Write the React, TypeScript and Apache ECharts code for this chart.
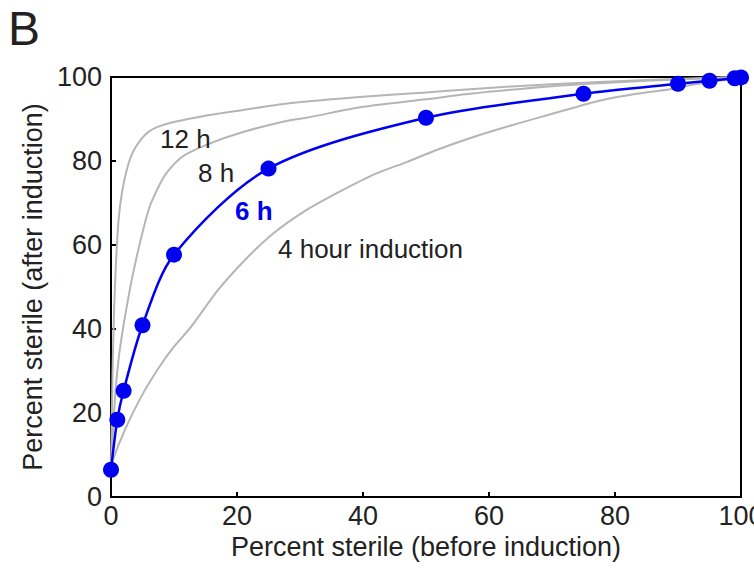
import React, { useEffect, useRef } from "react";
import * as echarts from "echarts";

// Percent sterile before induction (x) vs after induction (y)
const curve4h: [number, number][] = [
  [0, 6.5], [0.3, 8.8], [2.2, 16], [4.8, 23.9], [7.5, 30.6], [10, 35.8], [12.7, 40.5],
  [17, 49.3], [21.5, 56.8], [25.8, 62.8], [31, 68.3], [36.3, 72.7], [41.6, 76.7],
  [47, 79.8], [52, 82.8], [57.3, 85.6], [62, 87.8], [67.6, 90.2], [73, 92.5],
  [78, 94.5], [83.4, 96], [88.7, 97.1], [91.4, 97.9], [95, 98.8], [100, 99.7],
];

const curve8h: [number, number][] = [
  [0, 6.5], [0.3, 15], [0.7, 25], [1.3, 34], [2, 41], [2.7, 47], [3.4, 52.5], [4.2, 58],
  [5, 63], [5.8, 67.5], [6.5, 70.5], [8.5, 76.5], [11.2, 80.9], [15.4, 84], [20.7, 86.8],
  [28, 89.6], [31, 90.3], [40, 92.9], [50, 94.7], [57, 96], [70, 97.8], [85, 99.1], [100, 100],
];

const curve12h: [number, number][] = [
  [0, 6.5], [0.1, 15], [0.25, 30], [0.5, 45], [0.8, 56], [1.2, 66], [1.8, 73], [2.7, 79],
  [3.6, 82.5], [4.8, 85.2], [6, 87], [7.5, 88.2], [10, 89.3], [15, 90.8], [20.7, 92.1],
  [28, 93.7], [40, 95.3], [50, 96.3], [57, 97.1], [70, 98.3], [85, 99.3], [100, 100],
];

const measured6hX = [0, 1, 2, 5, 10, 25, 50, 75, 90, 95, 99, 100];
const measured6hY = [6.5, 18.4, 25.3, 40.9, 57.7, 78.2, 90.3, 96.0, 98.4, 99.1, 99.7, 99.9];

const xTicks = [0, 20, 40, 60, 80, 100];
const yTicks = [0, 20, 40, 60, 80, 100];

const curveLabels = [
  { text: "12 h", x: 160, y: 138.5, color: "#222", bold: false },
  { text: "8 h", x: 198, y: 172.5, color: "#222", bold: false },
  { text: "6 h", x: 235, y: 210.5, color: "#0000f0", bold: true },
  { text: "4 hour induction", x: 278, y: 248.5, color: "#222", bold: false },
];

const FONT = '"Liberation Sans", Arial, Helvetica, sans-serif';

export default function App() {
  const ref = useRef<HTMLDivElement>(null);

  useEffect(() => {
    if (!ref.current) return;
    const chart = echarts.init(ref.current, undefined, { renderer: "svg" });
    const gray = "#b5b5b5";
    const blue = "#0000f0";
    const axisCommon = {
      type: "value" as const,
      min: 0,
      max: 100,
      interval: 20,
      axisLine: { show: true, lineStyle: { color: "#000", width: 2 } },
      axisTick: { show: true, inside: true, length: 5, lineStyle: { color: "#000", width: 2 } },
      splitLine: { show: false },
      nameLocation: "middle" as const,
      nameTextStyle: { fontSize: 27, color: "#222", fontFamily: FONT },
    };
    const grayLine = (name: string, data: [number, number][]) => ({
      name,
      type: "line",
      data,
      showSymbol: false,
      smooth: 0.25,
      lineStyle: { color: gray, width: 2 },
      z: 2,
    });
    chart.setOption({
      animation: false,
      backgroundColor: "#fff",
      grid: {
        left: 111,
        right: 13,
        top: 77,
        bottom: 71,
        show: true,
        borderColor: "#000",
        borderWidth: 2,
        containLabel: false,
        outerBoundsMode: "none",
      },
      xAxis: {
        ...axisCommon,
        name: "Percent sterile (before induction)",
        nameGap: 31,
        axisLabel: {
          fontSize: 27,
          color: "#222",
          fontFamily: FONT,
          margin: 5,
          formatter: (v: number) => (xTicks.includes(v) ? String(v) : ""),
        },
      },
      yAxis: {
        ...axisCommon,
        name: "Percent sterile (after induction)",
        nameGap: 55,
        axisLabel: {
          fontSize: 27,
          color: "#222",
          fontFamily: FONT,
          margin: 9,
          formatter: (v: number) => (yTicks.includes(v) ? String(v) : ""),
        },
      },
      series: [
        grayLine("4 h", curve4h),
        grayLine("8 h", curve8h),
        grayLine("12 h", curve12h),
        {
          name: "6 h",
          type: "line",
          data: measured6hX.map((x, i) => [x, measured6hY[i]]),
          symbol: "circle",
          symbolSize: 16,
          showSymbol: true,
          smooth: 0.3,
          clip: false,
          lineStyle: { color: blue, width: 2.5 },
          itemStyle: { color: blue },
          z: 3,
        },
      ],
      graphic: [
        {
          type: "text",
          x: 8,
          y: 28,
          style: { text: "B", fill: "#222", font: `48px ${FONT}`, align: "left", verticalAlign: "middle" },
        },
        ...curveLabels.map((l) => ({
          type: "text",
          x: l.x,
          y: l.y,
          z: 10,
          style: {
            text: l.text,
            fill: l.color,
            font: `${l.bold ? "bold " : ""}26px ${FONT}`,
            align: "left",
            verticalAlign: "middle",
          },
        })),
      ],
    });
    return () => chart.dispose();
  }, []);

  return (
    <div
      ref={ref}
      style={{ position: "absolute", left: 0, top: 0, width: 754, height: 568 }}
    />
  );
}
